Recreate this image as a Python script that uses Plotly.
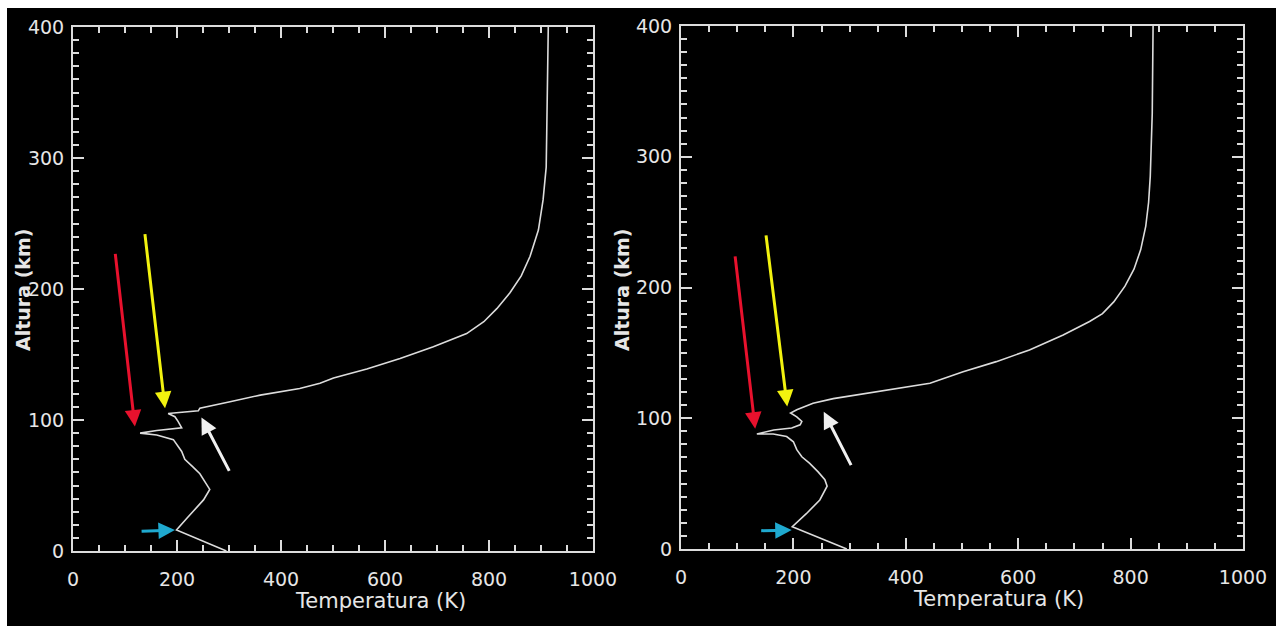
import plotly.graph_objects as go

# Temperature profiles (K) against altitude (km) for the two atmospheres
left_temp = [295, 199, 219, 238, 251, 263, 254, 244, 231, 215, 209, 193, 161, 129,
             161, 209, 202, 196, 183, 212, 241, 244, 270, 302, 360, 436, 475, 501,
             565, 629, 693, 757, 790, 815, 840, 862, 879, 895, 904, 910, 911, 912, 914]
left_alt = [0, 16, 25, 33, 39, 47, 53, 59, 64, 70, 76, 85, 88.5, 90,
            92, 94, 99, 102.5, 105, 106, 107, 109, 111.5, 114, 119, 124, 128, 132,
            139, 147, 156, 166, 175, 185, 197, 210, 225, 245, 268, 293, 319, 356, 400]

right_temp = [295, 198, 223, 247, 260, 256, 244, 229, 215, 206, 200, 188, 164, 135,
              165, 197, 212, 215, 206, 195, 206, 235, 271, 330, 389, 443, 502, 561,
              620, 680, 727, 750, 770, 790, 806, 818, 827, 832, 835, 837, 838.5, 840]
right_alt = [0, 17, 27, 37.5, 48, 53, 59, 65.5, 70.5, 76, 82, 86, 88, 88,
             91, 92.5, 95, 97.5, 101, 104, 106.5, 111.5, 115, 119, 123, 126.7, 135.6, 143.3,
             152.2, 163.7, 174, 180, 189, 201, 214, 229, 247, 265, 285, 318, 333, 400]

# Marker arrows: tail (T, h) -> tip (T, h)
arrow_colors = ["#e8112d", "#f2f20f", "#f0f0f0", "#1fa9cf"]
left_tail_T = [81, 138, 302, 129]
left_tail_h = [228, 243, 60, 15]
left_tip_T = [119, 177, 247, 196]
left_tip_h = [95, 109, 102, 16]
right_tail_T = [96, 151, 304, 140]
right_tail_h = [225, 241, 63, 14]
right_tip_T = [132, 189, 254, 197]
right_tip_h = [92, 109, 105, 14.5]

x_ticks = [0, 200, 400, 600, 800, 1000]
y_ticks = [0, 100, 200, 300, 400]
x_title = "Temperatura (K)"
y_title = "Altura (km)"

W, H = 1276, 626
FG = "#dcdcdc"
FONT = "DejaVu Sans"

fig = go.Figure()
fig.add_trace(go.Scatter(x=left_temp, y=left_alt, mode="lines",
                         line=dict(color=FG, width=1.6), xaxis="x", yaxis="y",
                         showlegend=False))
fig.add_trace(go.Scatter(x=right_temp, y=right_alt, mode="lines",
                         line=dict(color=FG, width=1.6), xaxis="x2", yaxis="y2",
                         showlegend=False))


def axis_style(dtick_minor, tickvals, standoff, **kw):
    d = dict(
        showline=True, linecolor=FG, linewidth=2, mirror="allticks",
        ticks="inside", ticklen=11, tickwidth=2, tickcolor=FG,
        tickvals=tickvals, showgrid=False, zeroline=False, automargin=False,
        tickfont=dict(family=FONT, size=19, color="#e6e6e6"),
        ticklabelstandoff=standoff,
        minor=dict(dtick=dtick_minor, ticks="inside", ticklen=6, tickwidth=2,
                   tickcolor=FG, showgrid=False),
    )
    d.update(kw)
    return d


def px_x(p):
    return p / W


def px_y(p):
    return (H - p) / H


fig.update_layout(
    template="none",
    width=W, height=H,
    margin=dict(l=0, r=0, t=0, b=0, pad=0),
    paper_bgcolor="black", plot_bgcolor="black",
    xaxis=axis_style(50, x_ticks, 10, range=[0, 1000],
                     domain=[px_x(73), px_x(593)], anchor="y"),
    yaxis=axis_style(10, y_ticks, 3, range=[0, 400],
                     domain=[px_y(551), px_y(27)], anchor="x"),
    xaxis2=axis_style(50, x_ticks, 10, range=[0, 1000],
                      domain=[px_x(681), px_x(1243)], anchor="y2"),
    yaxis2=axis_style(10, y_ticks, 3, range=[0, 400],
                      domain=[px_y(549), px_y(26)], anchor="x2"),
)

# White strips along the top and left edges
fig.add_shape(type="rect", xref="paper", yref="paper", x0=0, x1=1,
              y0=px_y(8), y1=1, fillcolor="white", line_width=0, layer="above")
fig.add_shape(type="rect", xref="paper", yref="paper", x0=0, x1=px_x(7),
              y0=0, y1=1, fillcolor="white", line_width=0, layer="above")

annotations = []
for xr, yr, tT, th, hT, hh in [
    ("x", "y", left_tail_T, left_tail_h, left_tip_T, left_tip_h),
    ("x2", "y2", right_tail_T, right_tail_h, right_tip_T, right_tip_h),
]:
    for i, col in enumerate(arrow_colors):
        annotations.append(dict(
            x=hT[i], y=hh[i], ax=tT[i], ay=th[i], xref=xr, yref=yr,
            axref=xr, ayref=yr, text="", showarrow=True, arrowhead=2,
            arrowsize=1.1, arrowwidth=3, arrowcolor=col, standoff=0,
        ))

# Axis titles
for cx, cy in [(23, 290), (622, 290)]:
    annotations.append(dict(
        x=px_x(cx), y=px_y(cy), xref="paper", yref="paper", text=f"<b>{y_title}</b>",
        textangle=-90, showarrow=False, xanchor="center", yanchor="middle",
        font=dict(family=FONT, size=19, color="#e6e6e6"),
    ))
for cx, cy in [(380, 601), (998, 599)]:
    annotations.append(dict(
        x=px_x(cx), y=px_y(cy), xref="paper", yref="paper", text=x_title,
        showarrow=False, xanchor="center", yanchor="middle",
        font=dict(family=FONT, size=21, color="#e6e6e6"),
    ))

fig.update_layout(annotations=annotations)
fig.write_html("out.html")
